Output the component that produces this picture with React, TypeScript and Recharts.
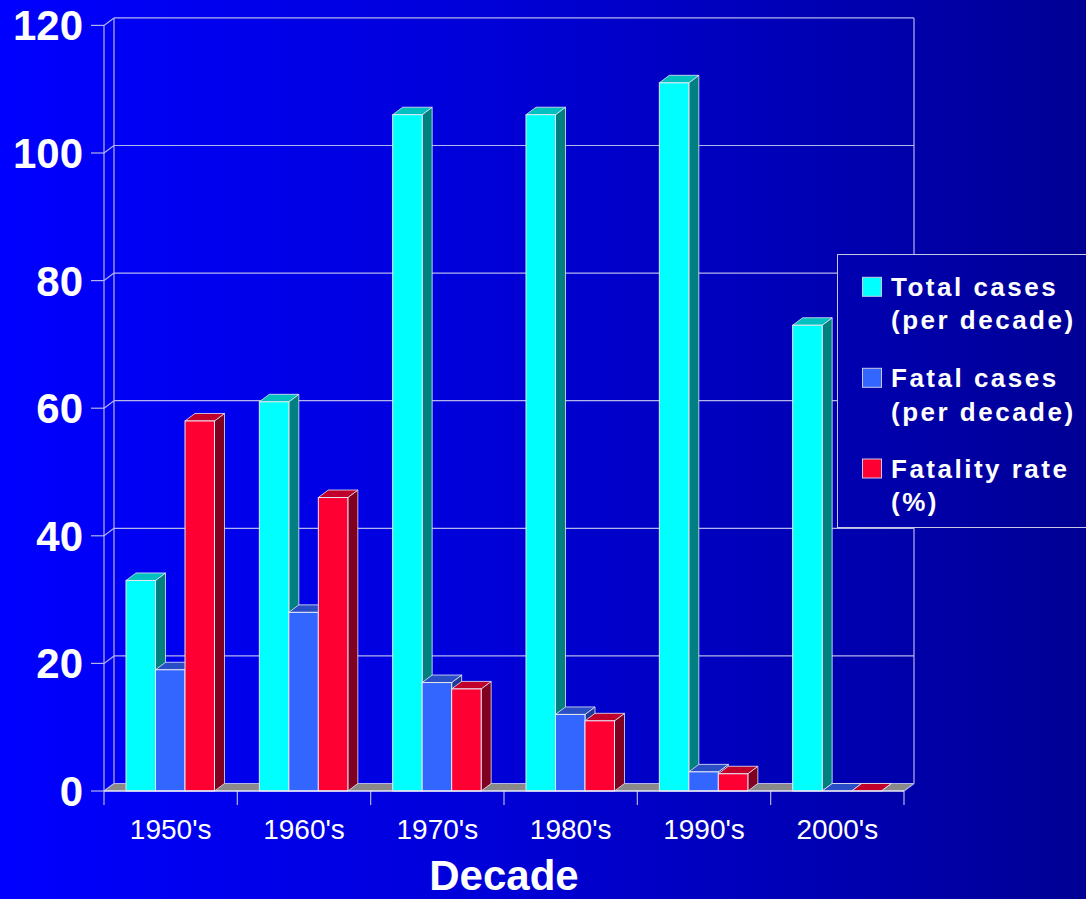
import React from 'react';
import { BarChart, Bar, XAxis, YAxis, CartesianGrid, Legend } from 'recharts';

const decades = ["1950's", "1960's", "1970's", "1980's", "1990's", "2000's"];
const totalCases = [33, 61, 106, 106, 111, 73];
const fatalCases = [19, 28, 17, 12, 3, 0];
const fatalityRate = [58, 46, 16, 11, 2.7, 0];
const yTicks = [0, 20, 40, 60, 80, 100, 120];

const seriesNames = ['Total cases', 'Fatal cases', 'Fatality rate'];
const seriesSub = ['(per decade)', '(per decade)', '(%)'];

const data = decades.map((d, i) => ({
  decade: d,
  total: totalCases[i],
  fatal: fatalCases[i],
  rate: fatalityRate[i],
}));

const W = 1086;
const H = 899;
const DX = 10;
const DY = -7.5;
const GRID = '#B4B4EC';
const EDGE = '#E8E8F4';
const FONT = '"Liberation Sans", Arial, Helvetica, sans-serif';
const BG = 'linear-gradient(to right, #0000FF 0%, #0000D8 45%, #0000AE 80%, #000094 100%)';

const faces = {
  total: { front: '#00FFFF', top: '#00C0C0', side: '#008080' },
  fatal: { front: '#3366FF', top: '#2A4EC6', side: '#1E3A99' },
  rate: { front: '#FF0033', top: '#C0002A', side: '#800020' },
};

const make3D = (f: { front: string; top: string; side: string }) => (props: any) => {
  const { x, y, width, height } = props;
  if (x == null || y == null) return <g />;
  const h = Math.max(0, height || 0);
  const x2 = x + width;
  const yb = y + h;
  const top = `${x},${y} ${x + DX},${y + DY} ${x2 + DX},${y + DY} ${x2},${y}`;
  const side = `${x2},${y} ${x2 + DX},${y + DY} ${x2 + DX},${yb + DY} ${x2},${yb}`;
  return (
    <g>
      <polygon points={side} fill={f.side} stroke={EDGE} strokeWidth={0.8} />
      <polygon points={top} fill={f.top} stroke={EDGE} strokeWidth={0.8} />
      {h > 0 && <rect x={x} y={y} width={width} height={h} fill={f.front} stroke={EDGE} strokeWidth={1} />}
    </g>
  );
};

const PLOT_TOP = 25.4;
const PLOT_BOTTOM = 791;

const gridLine = (p: any) => {
  const { x1, x2, y1, index } = p;
  const isBottom = Math.abs(y1 - PLOT_BOTTOM) < 2;
  const isTop = Math.abs(y1 - PLOT_TOP) < 2;
  const bx1 = x1 + DX;
  const bx2 = x2 + DX;
  const by = y1 + DY;
  const els: any[] = [];
  if (isBottom) {
    els.push(
      <polygon key="floor" points={`${x1},${y1} ${bx1},${by} ${bx2},${by} ${x2},${y1}`} fill="#8A8A8A" stroke="none" />
    );
    for (let i = 0; i <= decades.length; i++) {
      const tx = x1 + (i * (x2 - x1)) / decades.length;
      els.push(<line key={'t' + i} x1={tx} y1={y1} x2={tx} y2={y1 + 14} stroke={GRID} strokeWidth={1.2} />);
    }
    els.push(<line key="fr" x1={x2} y1={y1} x2={bx2} y2={by} stroke={GRID} strokeWidth={1.2} />);
  }
  if (isTop) {
    els.push(<line key="wl" x1={bx1} y1={by} x2={bx1} y2={PLOT_BOTTOM + DY} stroke={GRID} strokeWidth={1.2} />);
    els.push(<line key="wr" x1={bx2} y1={by} x2={bx2} y2={PLOT_BOTTOM + DY} stroke={GRID} strokeWidth={1.2} />);
  }
  els.push(<line key="d" x1={x1} y1={y1} x2={bx1} y2={by} stroke={GRID} strokeWidth={1.2} />);
  els.push(<line key="h" x1={bx1} y1={by} x2={bx2} y2={by} stroke={GRID} strokeWidth={1.2} />);
  return <g key={'g' + index + '-' + y1}>{els}</g>;
};

const YTick = (props: any) => {
  const { y, payload } = props;
  return (
    <text x={83} y={y} dy={15} textAnchor="end" fill="#FFFFFF" fontFamily={FONT} fontWeight="bold" fontSize={42}>
      {payload.value}
    </text>
  );
};

const XTick = (props: any) => {
  const { x, payload } = props;
  return (
    <text x={x} y={839} textAnchor="middle" fill="#FFFFFF" fontFamily={FONT} fontSize={28}>
      {payload.value}
    </text>
  );
};

const XLabel = (props: any) => {
  const vb = props.viewBox || {};
  const cx = (vb.x || 0) + (vb.width || 0) / 2;
  return (
    <text x={cx} y={890} textAnchor="middle" fill="#FFFFFF" fontFamily={FONT} fontWeight="bold" fontSize={42}>
      Decade
    </text>
  );
};

const swatchColors = [faces.total.front, faces.fatal.front, faces.rate.front];
const swatchTops = [23.3, 114.3, 205];
const baselines = [
  [41.7, 74.5],
  [133.3, 166.5],
  [224.3, 256.8],
];

const LegendContent = () => (
  <div
    style={{
      position: 'relative',
      width: 270,
      height: 274,
      border: '1px solid #C8C8E0',
      background: BG,
      backgroundSize: `${W}px 100%`,
      backgroundPosition: '-838px 0',
      boxSizing: 'border-box',
    }}
  >
    <svg width={270} height={274} style={{ position: 'absolute', left: -1, top: -1, display: 'block', overflow: 'visible' }}>
      {seriesNames.map((n, i) => (
        <g key={n}>
          <rect x={25.5} y={swatchTops[i]} width={19} height={19} fill={swatchColors[i]} stroke="#C8C8E8" strokeWidth={1} />
          <text x={54} y={baselines[i][0]} fill="#FFFFFF" fontFamily={FONT} fontWeight="bold" fontSize={26} letterSpacing={2.5}>
            {n}
          </text>
          <text x={54} y={baselines[i][1]} fill="#FFFFFF" fontFamily={FONT} fontWeight="bold" fontSize={26} letterSpacing={2.5}>
            {seriesSub[i]}
          </text>
        </g>
      ))}
    </svg>
  </div>
);

export default function App() {
  return (
    <div
      style={{
        position: 'absolute',
        left: 0,
        top: 0,
        width: W,
        height: H,
        overflow: 'hidden',
        background: BG,
      }}
    >
      <BarChart
        width={W}
        height={H}
        data={data}
        margin={{ top: PLOT_TOP, right: 182, bottom: 0, left: 0 }}
        barGap={0}
        barSize={29.5}
      >
        <CartesianGrid horizontal={gridLine} vertical={false} />
        <XAxis
          dataKey="decade"
          height={108}
          axisLine={{ stroke: EDGE, strokeWidth: 1.5 }}
          tickLine={false}
          tick={<XTick />}
          interval={0}
          label={<XLabel />}
        />
        <YAxis
          width={104}
          domain={[0, 120]}
          ticks={yTicks}
          interval={0}
          axisLine={{ stroke: GRID, strokeWidth: 1.2 }}
          tickLine={{ stroke: GRID, strokeWidth: 1.2 }}
          tickSize={13}
          tick={<YTick />}
        />
        <Legend
          layout="horizontal"
          verticalAlign="middle"
          align="center"
          wrapperStyle={{ position: 'absolute', left: 837, top: 254, width: 270, height: 274 }}
          content={<LegendContent />}
        />
        <Bar dataKey="total" name="Total cases" fill={faces.total.front} shape={make3D(faces.total)} isAnimationActive={false} />
        <Bar dataKey="fatal" name="Fatal cases" fill={faces.fatal.front} shape={make3D(faces.fatal)} isAnimationActive={false} />
        <Bar dataKey="rate" name="Fatality rate" fill={faces.rate.front} shape={make3D(faces.rate)} isAnimationActive={false} />
      </BarChart>
    </div>
  );
}
